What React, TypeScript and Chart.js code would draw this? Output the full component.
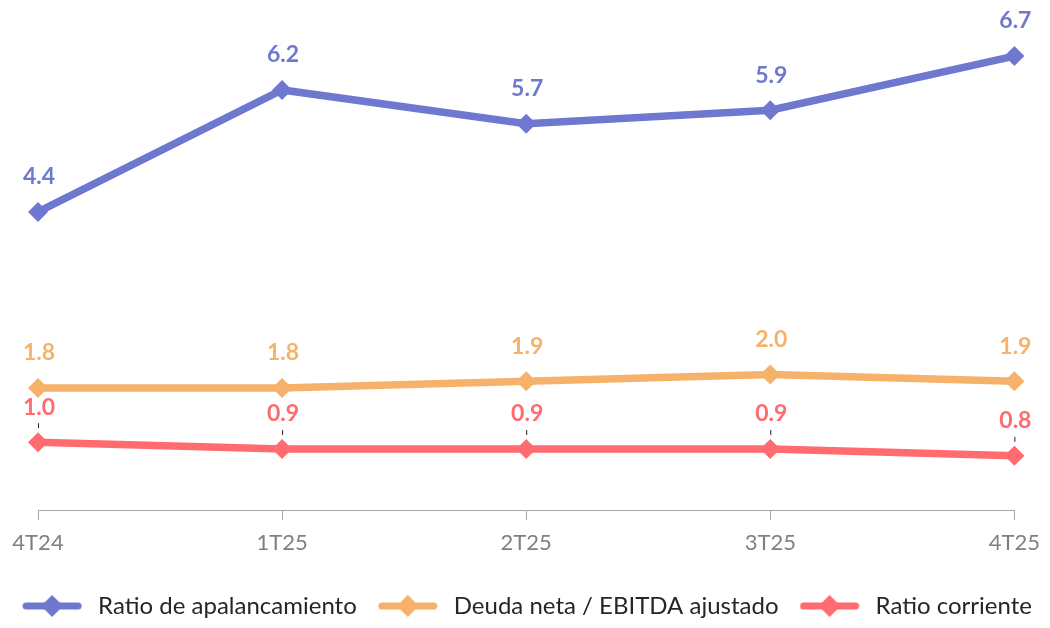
import React, { useEffect, useRef } from 'react';
import { Chart, registerables } from 'chart.js';

Chart.register(...registerables);

const categories = ['4T24', '1T25', '2T25', '3T25', '4T25'];
const apalancamiento = [4.4, 6.2, 5.7, 5.9, 6.7];
const deudaEbitda = [1.8, 1.8, 1.9, 2.0, 1.9];
const ratioCorriente = [1.0, 0.9, 0.9, 0.9, 0.8];
const seriesNames = ['Ratio de apalancamiento', 'Deuda neta / EBITDA ajustado', 'Ratio corriente'];
const seriesColors = ['#6F78CF', '#F6B26B', '#FF6B6E'];
const seriesData = [apalancamiento, deudaEbitda, ratioCorriente];

const FONT = 'Lato';

function makeLegendMarker(color: string) {
  const c = document.createElement('canvas');
  c.width = 60;
  c.height = 24;
  const ctx = c.getContext('2d')!;
  ctx.strokeStyle = color;
  ctx.lineWidth = 7;
  ctx.lineCap = 'round';
  ctx.beginPath();
  ctx.moveTo(4, 12);
  ctx.lineTo(56, 12);
  ctx.stroke();
  ctx.fillStyle = color;
  ctx.beginPath();
  ctx.moveTo(30, 1);
  ctx.lineTo(41, 12);
  ctx.lineTo(30, 23);
  ctx.lineTo(19, 12);
  ctx.closePath();
  ctx.fill();
  return c;
}

const labelPlugin = {
  id: 'valueLabels',
  afterDatasetsDraw(chart: any) {
    const ctx = chart.ctx;
    chart.data.datasets.forEach((ds: any, i: number) => {
      const meta = chart.getDatasetMeta(i);
      meta.data.forEach((pt: any, j: number) => {
        const v = ds.data[j] as number;
        ctx.save();
        ctx.font = `bold 23px ${FONT}`;
        ctx.fillStyle = seriesColors[i];
        ctx.textAlign = 'center';
        ctx.textBaseline = 'middle';
        ctx.fillText(v.toFixed(1), pt.x + 1, pt.y - 35);
        if (i === 2) {
          ctx.strokeStyle = '#222222';
          ctx.lineWidth = 1;
          ctx.beginPath();
          ctx.moveTo(pt.x + 0.5, pt.y - 19);
          ctx.lineTo(pt.x + 0.5, pt.y - 14);
          ctx.stroke();
        }
        ctx.restore();
      });
    });
  },
};

export default function App() {
  const ref = useRef<HTMLCanvasElement | null>(null);

  useEffect(() => {
    if (!ref.current) return;
    const markers = seriesColors.map((c) => makeLegendMarker(c));
    const chart = new Chart(ref.current, {
      type: 'line',
      data: {
        labels: categories,
        datasets: seriesData.map((d, i) => ({
          label: seriesNames[i],
          data: d,
          yAxisID: 'y',
          borderColor: seriesColors[i],
          backgroundColor: seriesColors[i],
          borderWidth: 7.5,
          pointStyle: 'rectRot',
          pointRadius: 10,
          pointHoverRadius: 10,
          pointBackgroundColor: seriesColors[i],
          pointBorderWidth: 0,
          tension: 0,
          fill: false,
        })),
      },
      options: {
        responsive: false,
        animation: false,
        layout: { padding: { left: 0, right: 0, top: 1, bottom: 0 } },
        scales: {
          x: {
            offset: false,
            grid: {
              display: true,
              drawOnChartArea: false,
              drawTicks: true,
              tickLength: 10,
              color: '#A6A6A6',
            },
            border: { display: true, color: '#A6A6A6', width: 1 },
            ticks: {
              color: '#808080',
              font: { family: FONT, size: 22 },
              padding: 10,
              maxRotation: 0,
            },
            afterFit: (scale: any) => {
              scale.height = 67;
            },
          },
          y: {
            display: true,
            position: 'left',
            min: 0,
            max: 7.38,
            grid: { display: false },
            border: { display: false },
            ticks: { display: false },
            afterFit: (scale: any) => {
              scale.width = 38;
            },
          },
          yRight: {
            type: 'linear',
            display: true,
            position: 'right',
            min: 0,
            max: 1,
            grid: { display: false },
            border: { display: false },
            ticks: { display: false },
            afterFit: (scale: any) => {
              scale.width = 35;
            },
          },
        },
        plugins: {
          tooltip: { enabled: false },
          legend: {
            display: true,
            position: 'bottom',
            labels: {
              usePointStyle: true,
              pointStyleWidth: 68,
              padding: 17,
              color: '#262626',
              font: { family: FONT, size: 24 },
              generateLabels: (ch: any) =>
                ch.data.datasets.map((ds: any, i: number) => ({
                  text: ds.label,
                  fillStyle: seriesColors[i],
                  strokeStyle: seriesColors[i],
                  lineWidth: 0,
                  pointStyle: markers[i],
                  hidden: false,
                  datasetIndex: i,
                  fontColor: '#262626',
                })),
            },
          },
        },
      },
      plugins: [labelPlugin],
    });
    return () => chart.destroy();
  }, []);

  return (
    <div style={{ position: 'absolute', left: 0, top: 0, width: 1050, height: 628, background: '#fff' }}>
      <canvas ref={ref} width={1050} height={628} style={{ display: 'block' }} />
    </div>
  );
}
